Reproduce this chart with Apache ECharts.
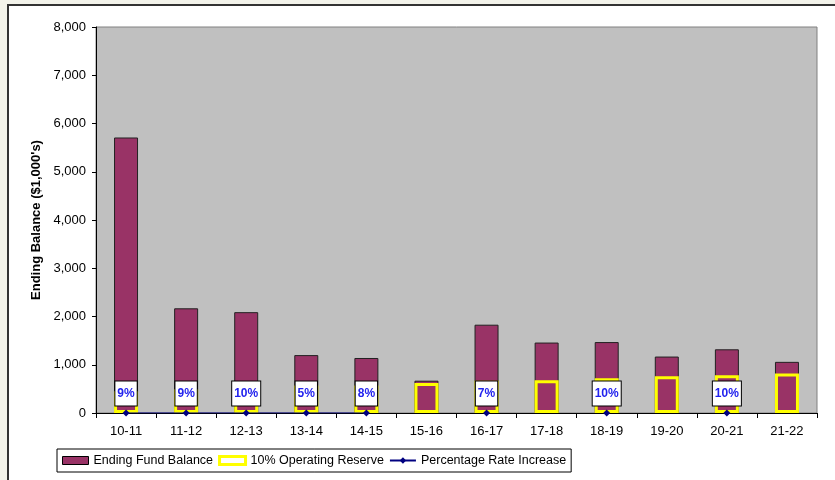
<!DOCTYPE html>
<html>
<head>
<meta charset="utf-8">
<script src="https://cdn.jsdelivr.net/npm/echarts@6/dist/echarts.min.js"></script>
<style>
  html, body { margin: 0; padding: 0; background: #f3f3ea; }
  #main { width: 835px; height: 480px; }
</style>
</head>
<body>
<div id="main"></div>
<script>
// fiscal years
var years = ['10-11', '11-12', '12-13', '13-14', '14-15', '15-16', '16-17', '17-18', '18-19', '19-20', '20-21', '21-22'];
// ending fund balance ($1,000's)
var balance = [5710, 2170, 2090, 1200, 1140, 670, 1830, 1460, 1470, 1170, 1320, 1060];
// 10% operating reserve
var reserve = [450, 490, 480, 570, 570, 620, 670, 680, 720, 760, 780, 820];
// percentage rate increase (%), blank where no increase
var rates = [9, 9, 10, 5, 8, null, 7, null, 10, null, 10, null];
var yTicks = [0, 8000, 1000];

var font = "'Liberation Sans', Arial, sans-serif";
var myChart = echarts.init(document.getElementById('main'));

var option = {
  backgroundColor: 'transparent',
  animation: false,
  textStyle: { fontFamily: font },
  graphic: [{
    type: 'rect',
    z: -10,
    shape: { x: 8, y: 5, width: 900, height: 520 },
    style: { fill: '#ffffff', stroke: '#333333', lineWidth: 2 }
  }],
  grid: {
    left: 96, right: 18, top: 27, bottom: 67,
    show: true,
    backgroundColor: '#c0c0c0',
    borderColor: '#808080',
    borderWidth: 1
  },
  legend: {
    left: 57, top: 449,
    backgroundColor: '#fff',
    borderColor: '#000',
    borderWidth: 1,
    borderRadius: 0,
    padding: [5, 5, 5, 5],
    itemWidth: 26,
    itemHeight: 8,
    itemGap: 5,
    textStyle: { fontSize: 12.5, color: '#000', fontFamily: font },
    data: [
      { name: 'Ending Fund Balance', icon: 'rect', itemStyle: { color: '#993366', borderColor: '#000', borderWidth: 1 } },
      { name: '10% Operating Reserve', icon: 'rect', itemStyle: { color: '#fff', borderColor: '#ffff00', borderWidth: 3 } },
      { name: 'Percentage Rate Increase' }
    ]
  },
  xAxis: {
    type: 'category',
    data: years,
    boundaryGap: true,
    axisLine: { lineStyle: { color: '#000', width: 1 } },
    axisTick: { show: true, length: 5, lineStyle: { color: '#000' } },
    axisLabel: { color: '#000', fontSize: 13, margin: 12, fontFamily: font }
  },
  yAxis: {
    type: 'value',
    min: yTicks[0], max: yTicks[1], interval: yTicks[2],
    name: "Ending Balance ($1,000's)",
    nameLocation: 'middle',
    nameGap: 50,
    nameRotate: 90,
    nameTextStyle: { fontSize: 13, fontWeight: 'bold', color: '#000', fontFamily: font },
    axisLine: { show: true, lineStyle: { color: '#000', width: 1 } },
    axisTick: { show: true, length: 4, lineStyle: { color: '#000' } },
    splitLine: { show: false },
    axisLabel: {
      color: '#000', fontSize: 13, margin: 10, fontFamily: font,
      formatter: function (v) { return v.toLocaleString('en-US'); }
    }
  },
  series: [
    {
      name: 'Ending Fund Balance',
      type: 'bar',
      data: balance,
      barWidth: 24,
      barGap: '-100%',
      itemStyle: { color: '#993366', borderColor: '#222', borderWidth: 1 }
    },
    {
      name: '10% Operating Reserve',
      type: 'bar',
      data: reserve,
      barWidth: 24,
      barGap: '-100%',
      itemStyle: { color: 'rgba(0,0,0,0)', borderColor: '#ffff00', borderWidth: 3 }
    },
    {
      name: 'Percentage Rate Increase',
      type: 'line',
      data: rates.map(function (r) { return r == null ? null : r / 100; }),
      connectNulls: false,
      symbol: 'diamond',
      symbolSize: 7,
      z: 5,
      lineStyle: { color: '#000080', width: 1 },
      itemStyle: { color: '#000080' },
      label: {
        show: true,
        position: 'top',
        distance: 4,
        formatter: function (p) { return rates[p.dataIndex] + '%'; },
        backgroundColor: '#fff',
        borderColor: '#000',
        borderWidth: 1,
        padding: [6, 2, 6, 2],
        color: '#2222ee',
        fontWeight: 'bold',
        fontSize: 12,
        fontFamily: font
      }
    }
  ]
};

myChart.setOption(option);
</script>
</body>
</html>
